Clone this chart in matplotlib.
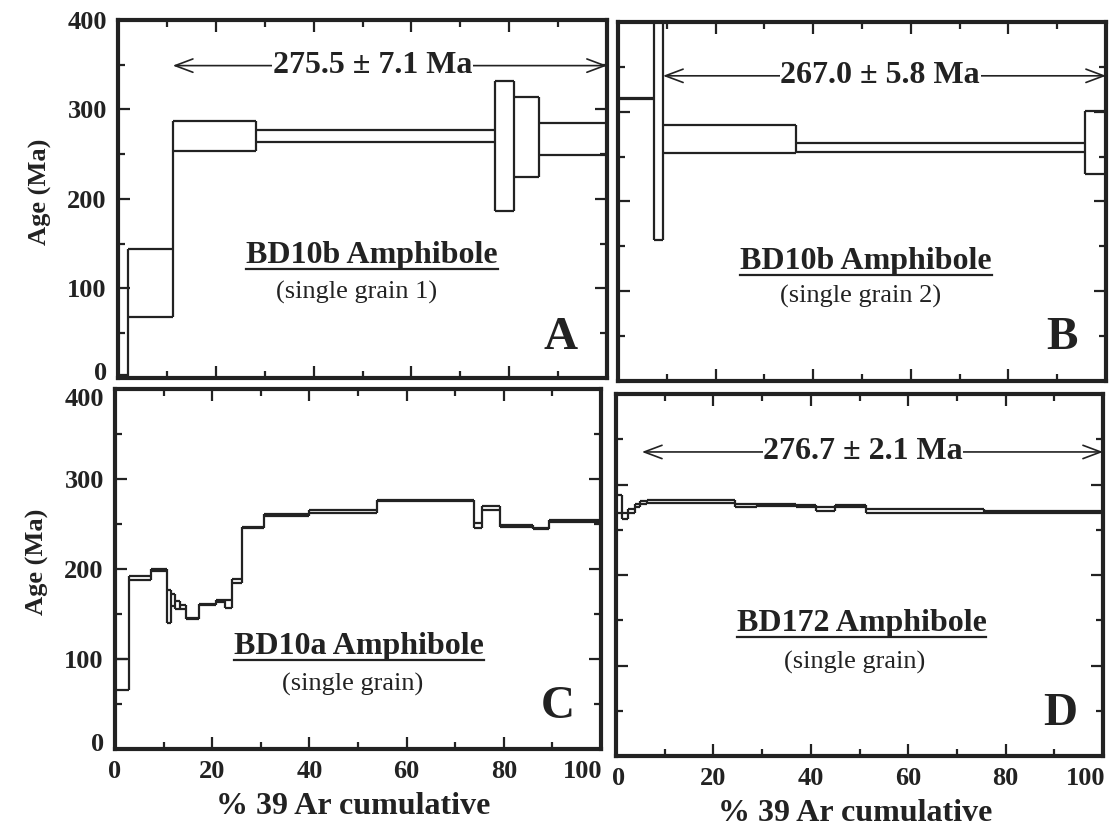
import matplotlib.pyplot as plt
from matplotlib.ticker import MultipleLocator
from matplotlib.transforms import ScaledTranslation
from matplotlib.lines import Line2D

plt.rcParams['font.family'] = ['Liberation Serif', 'DejaVu Serif']
ink = '#222222'

# step edges (% 39Ar cumulative) and upper / lower age of each step (Ma)
a_edges = [0, 2, 11.2, 28.2, 77, 81, 86, 100]
a_top = [3, 144, 287, 277, 332, 314, 285]
a_bot = [0, 68, 254, 264, 187, 224, 249]

b_edges = [0, 7.3, 9.2, 36.5, 95.7, 100]
b_top = [315, 450, 285, 265, 301]
b_bot = [314, 157, 254, 255, 231]

c_edges = [0, 2.9, 7.4, 10.7, 11.5, 12.4, 13.3, 14.6, 17.3, 20.8, 22.7, 24.1, 26.1,
           30.7, 39.9, 53.9, 73.8, 75.6, 79.2, 86.1, 89.2, 100]
c_top = [100, 192, 200, 177, 172, 164, 160, 146, 161, 166, 166, 189, 247,
         261, 265, 277, 251, 270, 249, 246, 254]
c_bot = [66, 188, 198, 140, 159, 156, 156, 144, 160, 163, 157, 184, 245,
         259, 262, 275, 246, 266, 247, 244, 252]

d_edges = [0, 1.2, 2.5, 3.9, 4.9, 6.3, 24.5, 29, 37, 41, 45, 51.4, 75.6, 100]
d_top = [288, 269, 273, 279, 282, 283, 278, 278, 277, 275, 277, 273, 271]
d_bot = [268, 262, 269, 275, 279, 280, 275, 276, 275, 271, 275, 269, 269]

x_ticks = [0, 20, 40, 60, 80, 100]
y_ticks = [0, 100, 200, 300, 400]

fig = plt.figure(figsize=(11.13, 8.32), dpi=100)
ax_a = fig.add_axes([0.1060, 0.5457, 0.4394, 0.4303])
ax_b = fig.add_axes([0.5553, 0.5421, 0.4385, 0.4315])
ax_c = fig.add_axes([0.1033, 0.0998, 0.4367, 0.4327])
ax_d = fig.add_axes([0.5535, 0.0913, 0.4376, 0.4351])


def spectrum(ax, edges, top, bot):
    ax.hlines(top, edges[:-1], edges[1:], color=ink, lw=1.6)
    ax.hlines(bot, edges[:-1], edges[1:], color=ink, lw=1.6)
    lo = [bot[0]] + [min(p, q) for p, q in zip(bot[:-1], bot[1:])] + [bot[-1]]
    hi = [top[0]] + [max(p, q) for p, q in zip(top[:-1], top[1:])] + [top[-1]]
    ax.vlines(edges, lo, hi, color=ink, lw=1.6)


def frame(ax, xlab, ylab):
    ax.set_xlim(0, 100)
    ax.set_ylim(0, 400)
    ax.set_xticks(x_ticks)
    ax.set_yticks(y_ticks)
    ax.xaxis.set_minor_locator(MultipleLocator(10))
    ax.yaxis.set_minor_locator(MultipleLocator(50))
    ax.tick_params(which='both', direction='in', top=True, right=True,
                   width=1.6, color=ink, labelcolor=ink)
    ax.tick_params(which='major', length=8.5)
    ax.tick_params(which='minor', length=5)
    ax.tick_params(axis='y', pad=8, labelsize=19, labelleft=ylab)
    ax.tick_params(axis='x', pad=8, labelsize=19, labelbottom=xlab)
    for lab in ax.get_xticklabels() + ax.get_yticklabels():
        lab.set_fontweight('bold')
    for s in ax.spines.values():
        s.set_linewidth(3)
        s.set_color(ink)
    if ylab:
        ax.set_ylabel('Age (Ma)', fontsize=19, fontweight='bold', color=ink)
        ax.yaxis.set_label_coords(-0.135, 0.52)
    if xlab:
        ax.set_xlabel('% 39 Ar cumulative', fontsize=23, fontweight='bold', color=ink)
        ax.xaxis.set_label_coords(0.49, -0.12)


def plateau(ax, x0, x1, y, txt, tx):
    ax.annotate('', xy=(x0, y), xytext=(x1, y),
                arrowprops=dict(arrowstyle='<->,head_length=0.8,head_width=0.3',
                                mutation_scale=16, lw=1.2, color=ink,
                                shrinkA=0, shrinkB=0))
    ax.text(tx, y, txt, ha='center', va='center', fontsize=23, fontweight='bold',
            color=ink, bbox=dict(facecolor='white', edgecolor='none', pad=0.5))


titles = []


def labels(ax, title, tpos, sub, spos, letter, lpos):
    t = ax.text(tpos[0], tpos[1], title, ha='center', va='center', fontsize=23,
                fontweight='bold', color=ink)
    titles.append(t)
    ax.text(spos[0], spos[1], sub, ha='center', va='center', fontsize=19, color=ink)
    ax.text(lpos[0], lpos[1], letter, ha='center', va='center', fontsize=34,
            fontweight='bold', color=ink)


spectrum(ax_a, a_edges, a_top, a_bot)
frame(ax_a, False, True)
plateau(ax_a, 11.2, 100, 349, '275.5 ± 7.1 Ma', 52)
labels(ax_a, 'BD10b Amphibole', (52, 137), '(single grain 1)', (48.7, 96), 'A', (90.5, 45))

spectrum(ax_b, b_edges, b_top, b_bot)
frame(ax_b, False, False)
plateau(ax_b, 9.2, 100, 340, '267.0 ± 5.8 Ma', 53.7)
labels(ax_b, 'BD10b Amphibole', (50.8, 133), '(single grain 2)', (49.6, 94), 'B', (91, 48))

spectrum(ax_c, c_edges, c_top, c_bot)
frame(ax_c, True, True)
labels(ax_c, 'BD10a Amphibole', (50.2, 114), '(single grain)', (48.9, 72), 'C', (91, 47))

spectrum(ax_d, d_edges, d_top, d_bot)
frame(ax_d, True, False)
plateau(ax_d, 5.3, 100, 336, '276.7 ± 2.1 Ma', 50.7)
labels(ax_d, 'BD172 Amphibole', (50.4, 147), '(single grain)', (48.9, 103), 'D', (91.2, 47))


def nudge(lab, dx, dy):
    lab.set_transform(lab.get_transform() +
                      ScaledTranslation(dx / 100, dy / 100, fig.dpi_scale_trans))


nudge(ax_a.yaxis.get_major_ticks()[0].label1, 0, 7)
nudge(ax_c.yaxis.get_major_ticks()[0].label1, 0, 7)
nudge(ax_c.yaxis.get_major_ticks()[-1].label1, 0, -8)
nudge(ax_c.xaxis.get_major_ticks()[-1].label1, -18, 0)
nudge(ax_d.xaxis.get_major_ticks()[-1].label1, -17, 0)
nudge(ax_d.xaxis.get_major_ticks()[0].label1, 3, 0)

# underline the sample names
fig.canvas.draw()
W, H = fig.bbox.width, fig.bbox.height
for t in titles:
    bb = t.get_window_extent()
    y = (bb.y0 + 1) / H
    fig.add_artist(Line2D([bb.x0 / W, bb.x1 / W], [y, y], transform=fig.transFigure,
                          lw=1.6, color=ink))

fig.savefig('out.png', dpi=100, facecolor='white')
